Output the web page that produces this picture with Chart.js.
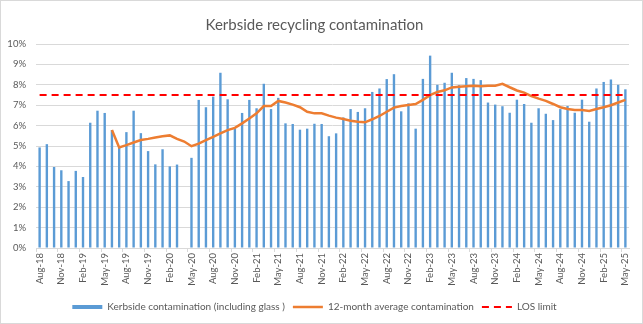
<!DOCTYPE html>
<html>
<head>
<meta charset="utf-8">
<script src="https://cdn.jsdelivr.net/npm/chart.js@4/dist/chart.umd.min.js"></script>
<style>
  html, body { margin: 0; padding: 0; background: #ffffff; }
  canvas { display: block; }
</style>
</head>
<body>
<canvas id="chart" width="643" height="324"></canvas>
<script>
// Month labels (category axis)
const months = [
  'Aug-18','Sep-18','Oct-18','Nov-18','Dec-18',
  'Jan-19','Feb-19','Mar-19','Apr-19','May-19','Jun-19','Jul-19','Aug-19','Sep-19','Oct-19','Nov-19','Dec-19',
  'Jan-20','Feb-20','Mar-20','Apr-20','May-20','Jun-20','Jul-20','Aug-20','Sep-20','Oct-20','Nov-20','Dec-20',
  'Jan-21','Feb-21','Mar-21','Apr-21','May-21','Jun-21','Jul-21','Aug-21','Sep-21','Oct-21','Nov-21','Dec-21',
  'Jan-22','Feb-22','Mar-22','Apr-22','May-22','Jun-22','Jul-22','Aug-22','Sep-22','Oct-22','Nov-22','Dec-22',
  'Jan-23','Feb-23','Mar-23','Apr-23','May-23','Jun-23','Jul-23','Aug-23','Sep-23','Oct-23','Nov-23','Dec-23',
  'Jan-24','Feb-24','Mar-24','Apr-24','May-24','Jun-24','Jul-24','Aug-24','Sep-24','Oct-24','Nov-24','Dec-24',
  'Jan-25','Feb-25','Mar-25','Apr-25','May-25'
];

// Monthly kerbside contamination, % (no figure for Apr-20)
const monthlyContamination = [
  4.93, 5.09, 3.97, 3.81, 3.28,
  3.78, 3.48, 6.14, 6.73, 6.62, 5.78, 4.96, 5.68, 6.73, 5.63, 4.75, 4.10,
  4.84, 4.00, 4.09, null, 4.42, 7.26, 6.90, 7.42, 8.59, 7.29, 5.86, 6.62,
  7.26, 6.85, 8.05, 6.81, 7.36, 6.11, 6.08, 5.80, 5.85, 6.09, 6.08, 5.48,
  5.62, 6.40, 6.81, 6.67, 6.85, 7.65, 7.82, 8.28, 8.52, 6.70, 7.09, 5.85,
  8.29, 9.43, 8.00, 8.10, 8.59, 7.98, 8.33, 8.29, 8.23, 7.13, 7.03, 6.95,
  6.63, 7.27, 7.06, 6.14, 6.85, 6.58, 6.27, 6.81, 6.96, 6.63, 7.27, 6.19,
  7.82, 8.14, 8.26, 8.00, 7.78
];

// Rolling 12-month average, % (starts Jun-19)
const rollingAverage = [
  null, null, null, null, null,
  null, null, null, null, null, 5.78, 4.93, 5.04, 5.17, 5.29, 5.35, 5.42,
  5.48, 5.52, 5.35, 5.22, 4.99, 5.12, 5.29, 5.45, 5.62, 5.78, 5.89, 6.11,
  6.35, 6.60, 6.96, 6.96, 7.21, 7.13, 7.03, 6.90, 6.68, 6.60, 6.60, 6.49,
  6.39, 6.32, 6.24, 6.19, 6.16, 6.31, 6.47, 6.68, 6.88, 6.96, 7.01, 7.06,
  7.26, 7.49, 7.65, 7.73, 7.87, 7.91, 7.93, 7.95, 7.93, 7.95, 7.95, 8.05,
  7.88, 7.72, 7.62, 7.45, 7.32, 7.21, 7.06, 6.90, 6.81, 6.76, 6.76, 6.72,
  6.81, 6.90, 7.00, 7.13, 7.26
];

// Level-of-service limit, %
const losLimit = 7.5;
const losLine = months.map(() => losLimit);

// Y axis ticks, %
const yTicks = [0, 1, 2, 3, 4, 5, 6, 7, 8, 9, 10];

const GREY = '#595959';
const GRID = '#d9d9d9';
const FONT = 'Lato, "Open Sans", sans-serif';

// Thin frame round the whole chart area
const framePlugin = {
  id: 'frame',
  afterDraw(chart) {
    const ctx = chart.ctx;
    ctx.save();
    ctx.strokeStyle = GRID;
    ctx.lineWidth = 1;
    ctx.strokeRect(0.5, 0.5, chart.width - 1, chart.height - 1);
    ctx.restore();
  }
};

new Chart(document.getElementById('chart'), {
  data: {
    labels: months,
    datasets: [
      {
        type: 'bar',
        label: 'Kerbside contamination (including glass )',
        data: monthlyContamination,
        backgroundColor: '#5B9BD5',
        borderWidth: 0,
        barPercentage: 0.33,
        categoryPercentage: 1.0,
        order: 3
      },
      {
        type: 'line',
        label: '12-month average contamination',
        data: rollingAverage,
        borderColor: '#ED7D31',
        backgroundColor: '#ED7D31',
        borderWidth: 2.5,
        pointRadius: 0,
        tension: 0,
        spanGaps: false,
        order: 2
      },
      {
        type: 'line',
        label: 'LOS limit',
        data: losLine,
        borderColor: '#FF0000',
        backgroundColor: '#FF0000',
        borderWidth: 2,
        borderDash: [7, 5],
        pointRadius: 0,
        tension: 0,
        order: 1
      }
    ]
  },
  options: {
    responsive: false,
    animation: false,
    devicePixelRatio: 1,
    layout: { padding: { left: 0, right: 14, top: 0, bottom: 2 } },
    plugins: {
      tooltip: { enabled: false },
      title: {
        display: true,
        text: 'Kerbside recycling contamination',
        color: GREY,
        font: { family: FONT, size: 15, weight: 'normal' },
        padding: { top: 16, bottom: 10 }
      },
      legend: {
        position: 'bottom',
        labels: {
          color: GREY,
          font: { family: FONT, size: 10 },
          usePointStyle: true,
          pointStyleWidth: 30,
          boxHeight: 4,
          padding: 8,
          sort: (a, b) => a.datasetIndex - b.datasetIndex,
          generateLabels(chart) {
            return chart.data.datasets.map((ds, i) => ({
              text: ds.label,
              datasetIndex: i,
              fontColor: GREY,
              fillStyle: ds.type === 'bar' ? ds.backgroundColor : 'transparent',
              strokeStyle: ds.type === 'bar' ? ds.backgroundColor : ds.borderColor,
              lineWidth: ds.type === 'bar' ? 0 : ds.borderWidth,
              lineDash: ds.borderDash || [],
              pointStyle: ds.type === 'bar' ? 'rect' : 'line',
              hidden: false
            }));
          }
        }
      }
    },
    scales: {
      x: {
        offset: true,
        border: { color: GRID },
        grid: {
          offset: true,
          drawOnChartArea: false,
          drawTicks: true,
          tickLength: 4,
          color: (c) => (c.index % 3 === 0 ? GRID : 'rgba(0,0,0,0)')
        },
        ticks: {
          autoSkip: false,
          minRotation: 90,
          maxRotation: 90,
          padding: 1,
          color: GREY,
          font: { family: FONT, size: 9.5 },
          callback(value, index) {
            return index % 3 === 0 ? months[index] : '';
          }
        },
        afterFit(scale) { scale.height = 46; }
      },
      y: {
        min: 0,
        max: 10,
        border: { display: false },
        grid: { color: GRID, drawTicks: false },
        afterBuildTicks(scale) {
          scale.ticks = yTicks.map(v => ({ value: v }));
        },
        ticks: {
          padding: 10,
          color: GREY,
          font: { family: FONT, size: 9.5 },
          callback: (v) => v + '%'
        },
        afterFit(scale) { scale.width = 36; }
      }
    }
  },
  plugins: [framePlugin]
});
</script>
</body>
</html>
